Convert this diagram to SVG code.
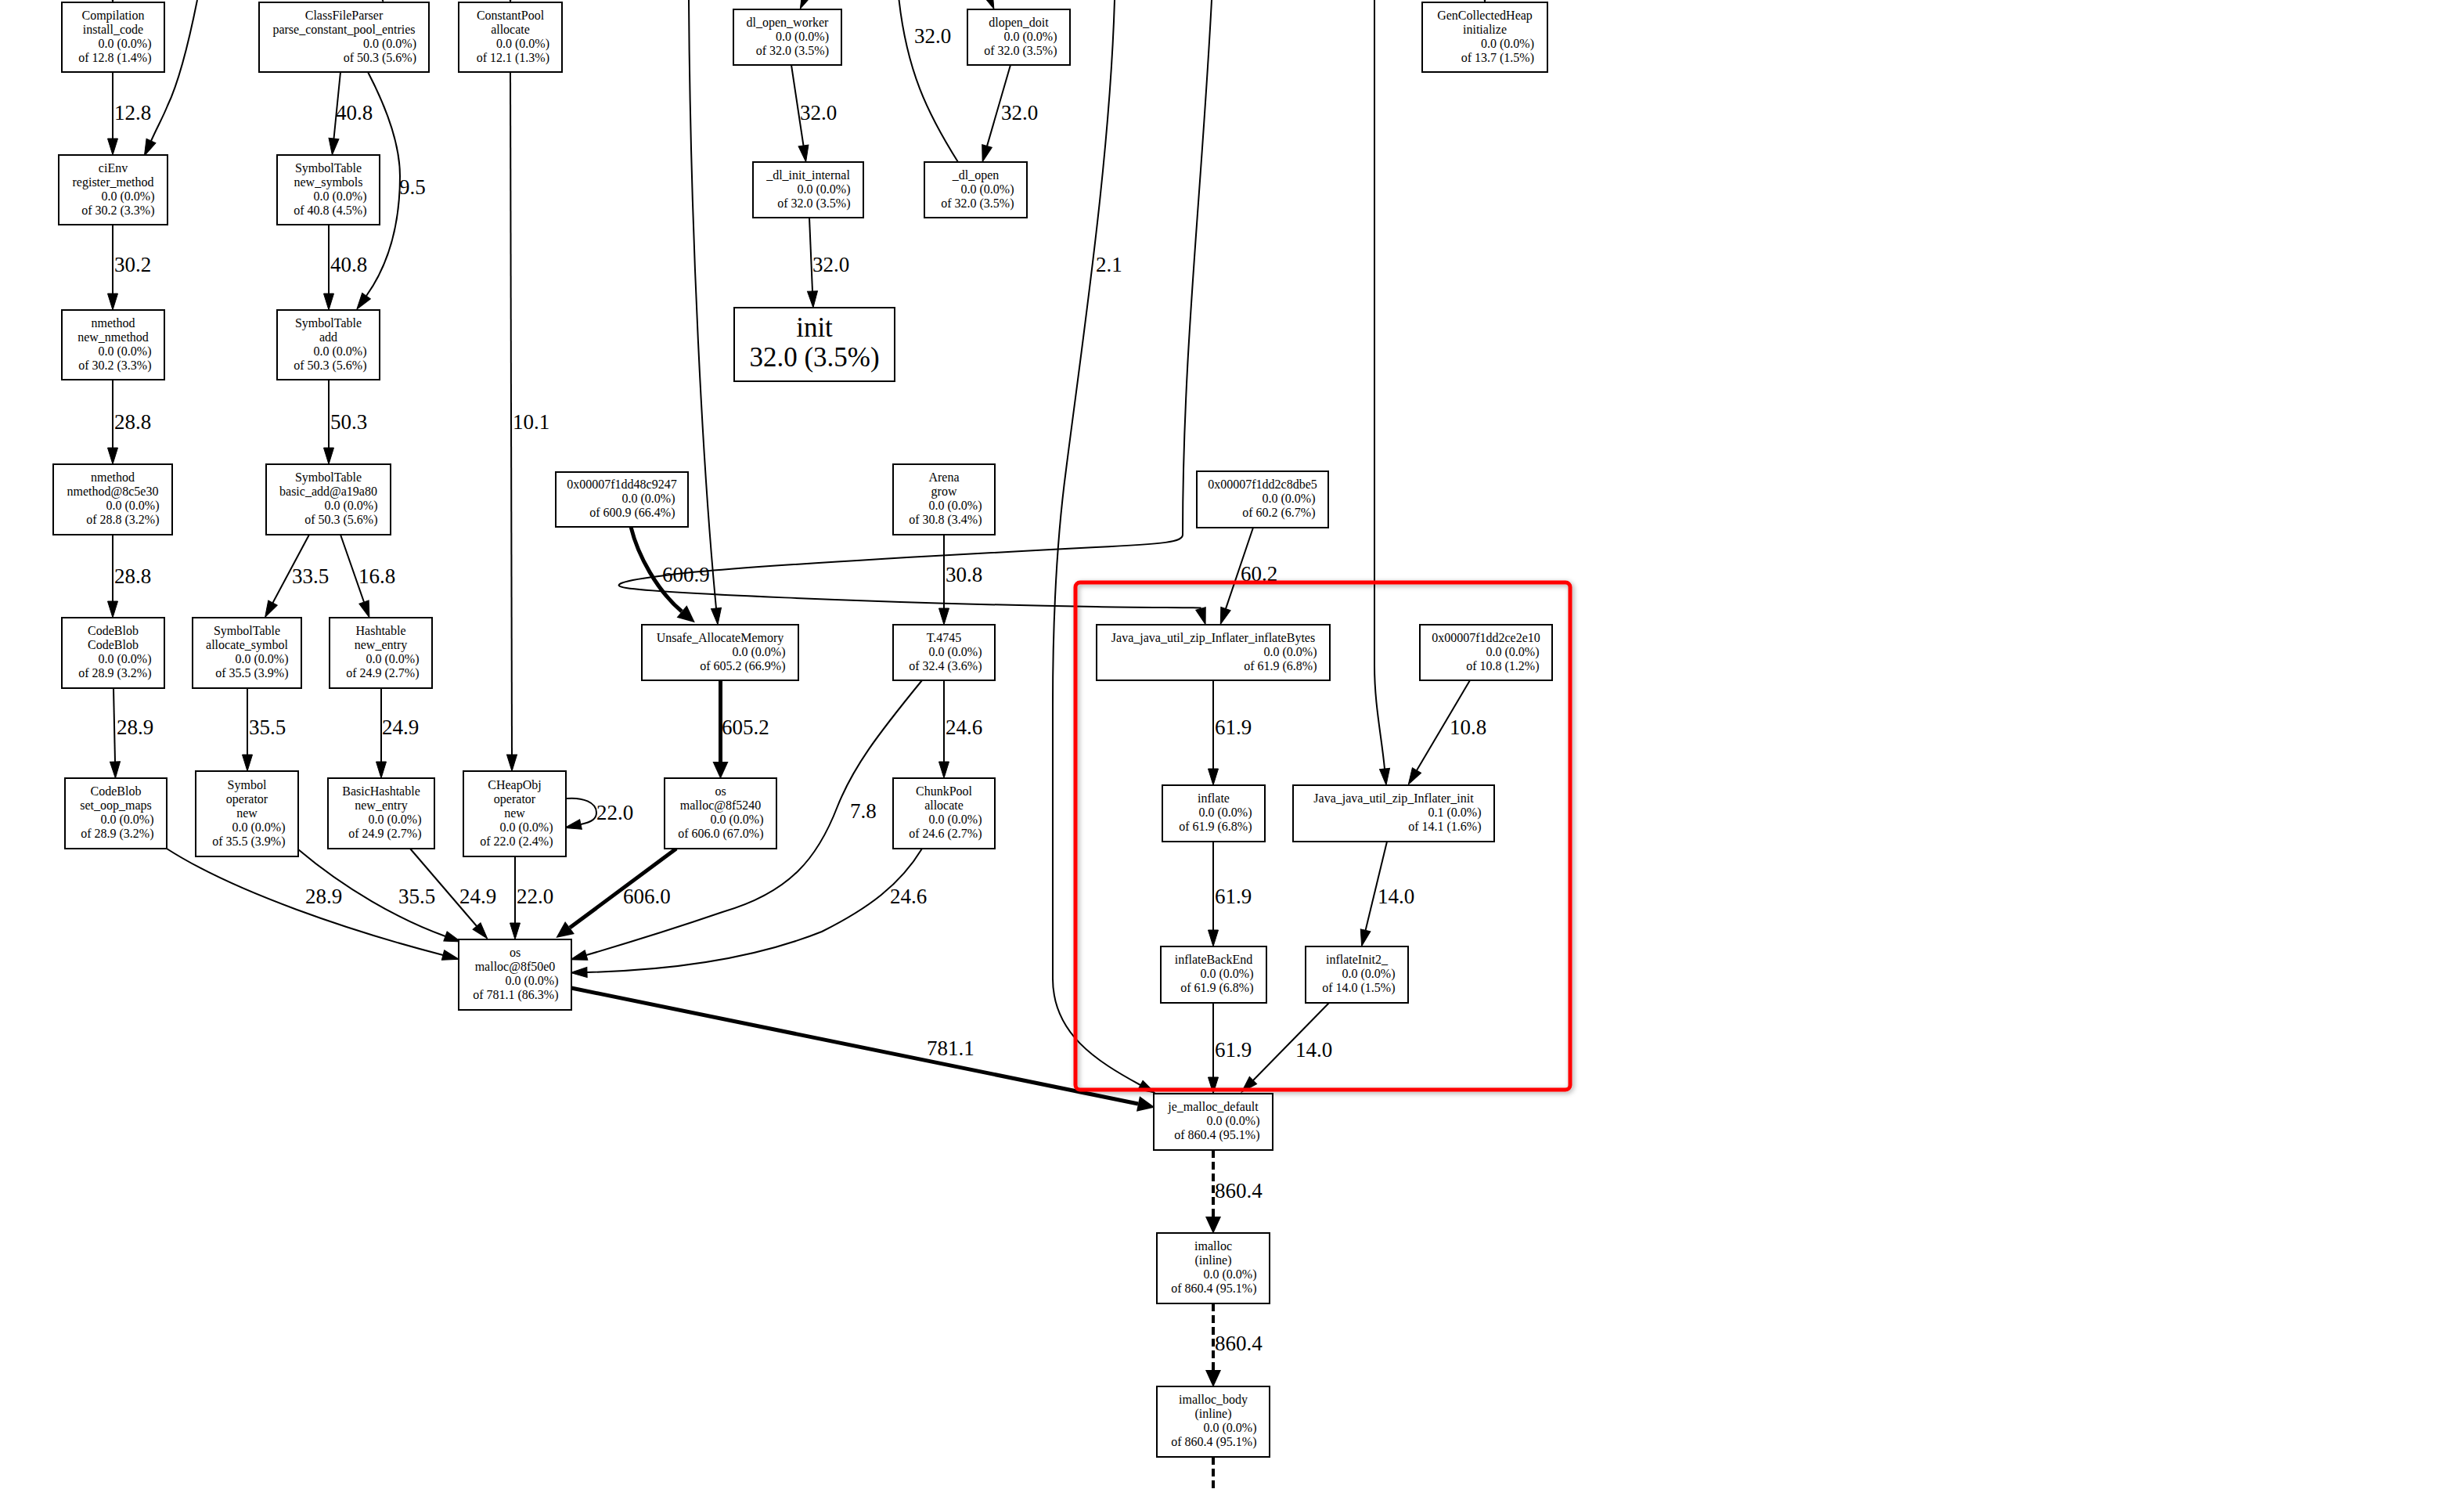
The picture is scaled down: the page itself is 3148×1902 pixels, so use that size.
<svg xmlns="http://www.w3.org/2000/svg" width="3148" height="1902" viewBox="0 0 3148 1902">
<style>
.box{fill:#fff;stroke:#000;stroke-width:2}
.nt{font-family:"Liberation Serif","Times New Roman",serif;font-size:16px;fill:#000}
.big{font-family:"Liberation Serif","Times New Roman",serif;font-size:35px;fill:#000;text-anchor:middle}
.c{text-anchor:middle}
.r{text-anchor:end}
.el{font-family:"Liberation Serif","Times New Roman",serif;font-size:27px;fill:#000}
.e{fill:none;stroke:#000;stroke-width:2;marker-end:url(#a)}
.n{fill:none;stroke:#000;stroke-width:2}
.k{fill:none;stroke:#000;stroke-width:5;marker-end:url(#ak)}
.d{fill:none;stroke:#000;stroke-width:4;stroke-dasharray:10 5;marker-end:url(#ak)}
.hl{fill:none;stroke:#f00;stroke-width:5}
</style>
<defs>
<marker id="a" markerUnits="userSpaceOnUse" orient="auto" refX="0" refY="6.5" markerWidth="22" markerHeight="13" overflow="visible"><path d="M0,0L21,6.5L0,13z" fill="#000" stroke="#000" stroke-width="1"/></marker>
<marker id="ak" markerUnits="userSpaceOnUse" orient="auto" refX="0" refY="10" markerWidth="23" markerHeight="20" overflow="visible"><path d="M0,0L22,10L0,20z" fill="#000"/></marker>
<filter id="sh" x="-5%" y="-5%" width="110%" height="110%"><feDropShadow dx="2" dy="2" stdDeviation="3" flood-color="#000" flood-opacity="0.35"/></filter>
</defs>
<rect width="3148" height="1902" fill="#fff"/>

<g id="connectors">
<path class="e" d="M144,-40L144,-18"/>
<path class="e" d="M478,-40L484,-18"/>
<path class="e" d="M652,-40L652,-18"/>
<path class="e" d="M1897,-40L1897,-18"/>
<path class="e" d="M1050,-50L1031,-8"/>
<path class="e" d="M1245,-50L1262,-8"/>
<path class="e" d="M144,92L144,177"/>
<path class="e" d="M252,0C238,70 226,110 214,135C208,150 202,160 193,180"/>
<path class="e" d="M435,92L426.5,177"/>
<path class="e" d="M470,92C495,140 511,185 511,225C511,290 495,340 468,378"/>
<path class="e" d="M420,287L420,375"/>
<path class="e" d="M144,287L144,375"/>
<path class="e" d="M144,485L144,572"/>
<path class="e" d="M420,485L420,572"/>
<path class="e" d="M144,683L144,768"/>
<path class="e" d="M395,683L348.5,770"/>
<path class="e" d="M435,683L465,769"/>
<path class="e" d="M145,879L147,973"/>
<path class="e" d="M316,879L316,964"/>
<path class="e" d="M487,879L487,973"/>
<path class="e" d="M652,92L654,964"/>
<path class="e" d="M1011,83L1026.5,186"/>
<path class="e" d="M1291,83L1261,186.6"/>
<path class="n" d="M1224,207C1185,145 1158,90 1148,-5"/>
<path class="e" d="M1034,278L1038,372"/>
<path class="e" d="M880,0C882,300 898,600 915,777"/>
<path class="e" d="M1424,0C1418,200 1385,420 1362,600C1350,690 1345,800 1345,900L1345,1250C1345,1320 1400,1355 1457,1386"/>
<path class="e" d="M1756,0L1756,850C1756,900 1765,940 1769,982"/>
<path class="e" d="M1548,0C1535,250 1511,450 1511,683C1511,692 1490,695 1400,699C1150,712 920,725 850,735C790,742 780,748 800,751C840,757 1100,770 1400,775C1450,776 1520,776 1533.7,776.5L1534,777.5"/>
<path class="k" d="M806,673C815,710 840,755 871,781"/>
<path class="e" d="M1206,683L1206,777"/>
<path class="e" d="M1601,674L1566,777.6"/>
<path class="k" d="M920.5,869L920.5,973"/>
<path class="e" d="M1206,869L1206,973"/>
<path class="e" d="M1178,869C1120,940 1090,980 1070,1030C1045,1095 1010,1140 923,1165C850,1190 790,1208 749,1220"/>
<path class="e" d="M1178,1084C1150,1130 1110,1160 1050,1190C950,1230 830,1240 750,1242"/>
<path class="k" d="M864,1084L728,1185"/>
<path class="k" d="M730,1262L1454,1410"/>
<path class="e" d="M213,1084C300,1140 450,1190 566,1220"/>
<path class="e" d="M381,1085C440,1135 510,1175 569,1196"/>
<path class="e" d="M524,1084L609,1183"/>
<path class="e" d="M658,1094L658,1179"/>
<path class="e" d="M723,1020C745,1018 762,1025 762,1038C762,1046 756,1050 742,1053"/>
<path class="e" d="M1550,869L1550,982"/>
<path class="e" d="M1878,869L1810,984"/>
<path class="e" d="M1550,1075L1550,1188"/>
<path class="e" d="M1772,1075L1744.6,1188.3"/>
<path class="e" d="M1550,1281L1550,1376"/>
<path class="e" d="M1698,1281L1601,1380"/>
<path class="d" d="M1550,1469L1550,1554"/>
<path class="d" d="M1550,1665L1550,1750"/>
<path class="d" d="M1550,1861L1550,1940"/>
<text class="el" x="146" y="153">12.8</text>
<text class="el" x="429" y="153">40.8</text>
<text class="el" x="510" y="248">9.5</text>
<text class="el" x="422" y="347">40.8</text>
<text class="el" x="146" y="347">30.2</text>
<text class="el" x="146" y="548">28.8</text>
<text class="el" x="422" y="548">50.3</text>
<text class="el" x="655" y="548">10.1</text>
<text class="el" x="1022" y="153">32.0</text>
<text class="el" x="1279" y="153">32.0</text>
<text class="el" x="1168" y="55">32.0</text>
<text class="el" x="1038" y="347">32.0</text>
<text class="el" x="1400" y="347">2.1</text>
<text class="el" x="846" y="743">600.9</text>
<text class="el" x="1208" y="743">30.8</text>
<text class="el" x="1585" y="742">60.2</text>
<text class="el" x="146" y="745">28.8</text>
<text class="el" x="373" y="745">33.5</text>
<text class="el" x="458" y="745">16.8</text>
<text class="el" x="149" y="938">28.9</text>
<text class="el" x="318" y="938">35.5</text>
<text class="el" x="488" y="938">24.9</text>
<text class="el" x="922" y="938">605.2</text>
<text class="el" x="1208" y="938">24.6</text>
<text class="el" x="1552" y="938">61.9</text>
<text class="el" x="1852" y="938">10.8</text>
<text class="el" x="762" y="1047">22.0</text>
<text class="el" x="1086" y="1045">7.8</text>
<text class="el" x="390" y="1154">28.9</text>
<text class="el" x="509" y="1154">35.5</text>
<text class="el" x="587" y="1154">24.9</text>
<text class="el" x="660" y="1154">22.0</text>
<text class="el" x="796" y="1154">606.0</text>
<text class="el" x="1137" y="1154">24.6</text>
<text class="el" x="1552" y="1154">61.9</text>
<text class="el" x="1760" y="1154">14.0</text>
<text class="el" x="1184" y="1348">781.1</text>
<text class="el" x="1552" y="1350">61.9</text>
<text class="el" x="1655" y="1350">14.0</text>
<text class="el" x="1552" y="1530">860.4</text>
<text class="el" x="1552" y="1725">860.4</text>
<text class="el" x="1552" y="1921">860.4</text>
</g>

<g id="n_compilation"><rect class="box" x="79" y="3" width="131" height="89"/><text class="nt c" x="144.5" y="24.5">Compilation</text><text class="nt c" x="144.5" y="42.5">install_code</text><text class="nt r" x="193.5" y="60.5">0.0 (0.0%)</text><text class="nt r" x="193.5" y="78.5">of 12.8 (1.4%)</text></g>
<g id="n_classfileparser"><rect class="box" x="331" y="3" width="217" height="89"/><text class="nt c" x="439.5" y="24.5">ClassFileParser</text><text class="nt c" x="439.5" y="42.5">parse_constant_pool_entries</text><text class="nt r" x="532" y="60.5">0.0 (0.0%)</text><text class="nt r" x="532" y="78.5">of 50.3 (5.6%)</text></g>
<g id="n_constantpool"><rect class="box" x="586" y="3" width="132" height="89"/><text class="nt c" x="652" y="24.5">ConstantPool</text><text class="nt c" x="652" y="42.5">allocate</text><text class="nt r" x="702" y="60.5">0.0 (0.0%)</text><text class="nt r" x="702" y="78.5">of 12.1 (1.3%)</text></g>
<g id="n_cienv"><rect class="box" x="75" y="198" width="139" height="89"/><text class="nt c" x="144.5" y="219.5">ciEnv</text><text class="nt c" x="144.5" y="237.5">register_method</text><text class="nt r" x="197.5" y="255.5">0.0 (0.0%)</text><text class="nt r" x="197.5" y="273.5">of 30.2 (3.3%)</text></g>
<g id="n_newsymbols"><rect class="box" x="354" y="198" width="131" height="89"/><text class="nt c" x="419.5" y="219.5">SymbolTable</text><text class="nt c" x="419.5" y="237.5">new_symbols</text><text class="nt r" x="468.5" y="255.5">0.0 (0.0%)</text><text class="nt r" x="468.5" y="273.5">of 40.8 (4.5%)</text></g>
<g id="n_newnmethod"><rect class="box" x="79" y="396" width="131" height="89"/><text class="nt c" x="144.5" y="417.5">nmethod</text><text class="nt c" x="144.5" y="435.5">new_nmethod</text><text class="nt r" x="193.5" y="453.5">0.0 (0.0%)</text><text class="nt r" x="193.5" y="471.5">of 30.2 (3.3%)</text></g>
<g id="n_symboltableadd"><rect class="box" x="354" y="396" width="131" height="89"/><text class="nt c" x="419.5" y="417.5">SymbolTable</text><text class="nt c" x="419.5" y="435.5">add</text><text class="nt r" x="468.5" y="453.5">0.0 (0.0%)</text><text class="nt r" x="468.5" y="471.5">of 50.3 (5.6%)</text></g>
<g id="n_dlopenworker"><rect class="box" x="937" y="12" width="138" height="71"/><text class="nt c" x="1006" y="33.5">dl_open_worker</text><text class="nt r" x="1059" y="51.5">0.0 (0.0%)</text><text class="nt r" x="1059" y="69.5">of 32.0 (3.5%)</text></g>
<g id="n_dlopendoit"><rect class="box" x="1236" y="12" width="131" height="71"/><text class="nt c" x="1301.5" y="33.5">dlopen_doit</text><text class="nt r" x="1350.5" y="51.5">0.0 (0.0%)</text><text class="nt r" x="1350.5" y="69.5">of 32.0 (3.5%)</text></g>
<g id="n_dlinitinternal"><rect class="box" x="962" y="207" width="141" height="71"/><text class="nt c" x="1032.5" y="228.5">_dl_init_internal</text><text class="nt r" x="1086.5" y="246.5">0.0 (0.0%)</text><text class="nt r" x="1086.5" y="264.5">of 32.0 (3.5%)</text></g>
<g id="n_dlopen"><rect class="box" x="1181" y="207" width="131" height="71"/><text class="nt c" x="1246.5" y="228.5">_dl_open</text><text class="nt r" x="1295.5" y="246.5">0.0 (0.0%)</text><text class="nt r" x="1295.5" y="264.5">of 32.0 (3.5%)</text></g>
<g id="n_init"><rect class="box" x="938" y="393" width="205" height="94"/><text class="big" x="1040.5" y="430">init</text><text class="big" x="1040.5" y="468">32.0 (3.5%)</text></g>
<g id="n_gencollectedheap"><rect class="box" x="1817" y="3" width="160" height="89"/><text class="nt c" x="1897" y="24.5">GenCollectedHeap</text><text class="nt c" x="1897" y="42.5">initialize</text><text class="nt r" x="1960" y="60.5">0.0 (0.0%)</text><text class="nt r" x="1960" y="78.5">of 13.7 (1.5%)</text></g>
<g id="n_nmethod8c5e30"><rect class="box" x="68" y="593" width="152" height="90"/><text class="nt c" x="144" y="615">nmethod</text><text class="nt c" x="144" y="633">nmethod@8c5e30</text><text class="nt r" x="203.5" y="651">0.0 (0.0%)</text><text class="nt r" x="203.5" y="669">of 28.8 (3.2%)</text></g>
<g id="n_basicadd"><rect class="box" x="340" y="593" width="159" height="90"/><text class="nt c" x="419.5" y="615">SymbolTable</text><text class="nt c" x="419.5" y="633">basic_add@a19a80</text><text class="nt r" x="482.5" y="651">0.0 (0.0%)</text><text class="nt r" x="482.5" y="669">of 50.3 (5.6%)</text></g>
<g id="n_0x9247"><rect class="box" x="710" y="603" width="169" height="70"/><text class="nt c" x="794.5" y="624">0x00007f1dd48c9247</text><text class="nt r" x="862.5" y="642">0.0 (0.0%)</text><text class="nt r" x="862.5" y="660">of 600.9 (66.4%)</text></g>
<g id="n_arenagrow"><rect class="box" x="1141" y="593" width="130" height="90"/><text class="nt c" x="1206" y="615">Arena</text><text class="nt c" x="1206" y="633">grow</text><text class="nt r" x="1254.5" y="651">0.0 (0.0%)</text><text class="nt r" x="1254.5" y="669">of 30.8 (3.4%)</text></g>
<g id="n_0xdbe5"><rect class="box" x="1529" y="602" width="168" height="72"/><text class="nt c" x="1613" y="624">0x00007f1dd2c8dbe5</text><text class="nt r" x="1680.5" y="642">0.0 (0.0%)</text><text class="nt r" x="1680.5" y="660">of 60.2 (6.7%)</text></g>
<g id="n_codeblob"><rect class="box" x="79" y="789" width="131" height="90"/><text class="nt c" x="144.5" y="811">CodeBlob</text><text class="nt c" x="144.5" y="829">CodeBlob</text><text class="nt r" x="193.5" y="847">0.0 (0.0%)</text><text class="nt r" x="193.5" y="865">of 28.9 (3.2%)</text></g>
<g id="n_allocatesymbol"><rect class="box" x="246" y="789" width="139" height="90"/><text class="nt c" x="315.5" y="811">SymbolTable</text><text class="nt c" x="315.5" y="829">allocate_symbol</text><text class="nt r" x="368.5" y="847">0.0 (0.0%)</text><text class="nt r" x="368.5" y="865">of 35.5 (3.9%)</text></g>
<g id="n_hashtable"><rect class="box" x="421" y="789" width="131" height="90"/><text class="nt c" x="486.5" y="811">Hashtable</text><text class="nt c" x="486.5" y="829">new_entry</text><text class="nt r" x="535.5" y="847">0.0 (0.0%)</text><text class="nt r" x="535.5" y="865">of 24.9 (2.7%)</text></g>
<g id="n_unsafe"><rect class="box" x="820" y="798" width="200" height="71"/><text class="nt c" x="920" y="819.5">Unsafe_AllocateMemory</text><text class="nt r" x="1003.5" y="837.5">0.0 (0.0%)</text><text class="nt r" x="1003.5" y="855.5">of 605.2 (66.9%)</text></g>
<g id="n_t4745"><rect class="box" x="1141" y="798" width="130" height="71"/><text class="nt c" x="1206" y="819.5">T.4745</text><text class="nt r" x="1254.5" y="837.5">0.0 (0.0%)</text><text class="nt r" x="1254.5" y="855.5">of 32.4 (3.6%)</text></g>
<g id="n_inflatebytes"><rect class="box" x="1401" y="798" width="298" height="71"/><text class="nt c" x="1550" y="819.5">Java_java_util_zip_Inflater_inflateBytes</text><text class="nt r" x="1682.5" y="837.5">0.0 (0.0%)</text><text class="nt r" x="1682.5" y="855.5">of 61.9 (6.8%)</text></g>
<g id="n_0x2e10"><rect class="box" x="1814" y="798" width="169" height="71"/><text class="nt c" x="1898.5" y="819.5">0x00007f1dd2ce2e10</text><text class="nt r" x="1966.5" y="837.5">0.0 (0.0%)</text><text class="nt r" x="1966.5" y="855.5">of 10.8 (1.2%)</text></g>
<g id="n_setoopmaps"><rect class="box" x="83" y="994" width="130" height="90"/><text class="nt c" x="148" y="1016">CodeBlob</text><text class="nt c" x="148" y="1034">set_oop_maps</text><text class="nt r" x="196.5" y="1052">0.0 (0.0%)</text><text class="nt r" x="196.5" y="1070">of 28.9 (3.2%)</text></g>
<g id="n_symbolnew"><rect class="box" x="250" y="985" width="131" height="109"/><text class="nt c" x="315.5" y="1007.5">Symbol</text><text class="nt c" x="315.5" y="1025.5">operator</text><text class="nt c" x="315.5" y="1043.5">new</text><text class="nt r" x="364.5" y="1061.5">0.0 (0.0%)</text><text class="nt r" x="364.5" y="1079.5">of 35.5 (3.9%)</text></g>
<g id="n_basichashtable"><rect class="box" x="419" y="994" width="136" height="90"/><text class="nt c" x="487" y="1016">BasicHashtable</text><text class="nt c" x="487" y="1034">new_entry</text><text class="nt r" x="538.5" y="1052">0.0 (0.0%)</text><text class="nt r" x="538.5" y="1070">of 24.9 (2.7%)</text></g>
<g id="n_cheapobj"><rect class="box" x="592" y="985" width="131" height="109"/><text class="nt c" x="657.5" y="1007.5">CHeapObj</text><text class="nt c" x="657.5" y="1025.5">operator</text><text class="nt c" x="657.5" y="1043.5">new</text><text class="nt r" x="706.5" y="1061.5">0.0 (0.0%)</text><text class="nt r" x="706.5" y="1079.5">of 22.0 (2.4%)</text></g>
<g id="n_malloc5240"><rect class="box" x="849" y="994" width="143" height="90"/><text class="nt c" x="920.5" y="1016">os</text><text class="nt c" x="920.5" y="1034">malloc@8f5240</text><text class="nt r" x="975.5" y="1052">0.0 (0.0%)</text><text class="nt r" x="975.5" y="1070">of 606.0 (67.0%)</text></g>
<g id="n_chunkpool"><rect class="box" x="1141" y="994" width="130" height="90"/><text class="nt c" x="1206" y="1016">ChunkPool</text><text class="nt c" x="1206" y="1034">allocate</text><text class="nt r" x="1254.5" y="1052">0.0 (0.0%)</text><text class="nt r" x="1254.5" y="1070">of 24.6 (2.7%)</text></g>
<g id="n_inflate"><rect class="box" x="1485" y="1003" width="131" height="72"/><text class="nt c" x="1550.5" y="1025">inflate</text><text class="nt r" x="1599.5" y="1043">0.0 (0.0%)</text><text class="nt r" x="1599.5" y="1061">of 61.9 (6.8%)</text></g>
<g id="n_inflaterinit"><rect class="box" x="1652" y="1003" width="257" height="72"/><text class="nt c" x="1780.5" y="1025">Java_java_util_zip_Inflater_init</text><text class="nt r" x="1892.5" y="1043">0.1 (0.0%)</text><text class="nt r" x="1892.5" y="1061">of 14.1 (1.6%)</text></g>
<g id="n_malloc50e0"><rect class="box" x="586" y="1200" width="144" height="90"/><text class="nt c" x="658" y="1222">os</text><text class="nt c" x="658" y="1240">malloc@8f50e0</text><text class="nt r" x="713.5" y="1258">0.0 (0.0%)</text><text class="nt r" x="713.5" y="1276">of 781.1 (86.3%)</text></g>
<g id="n_inflatebackend"><rect class="box" x="1483" y="1209" width="135" height="72"/><text class="nt c" x="1550.5" y="1231">inflateBackEnd</text><text class="nt r" x="1601.5" y="1249">0.0 (0.0%)</text><text class="nt r" x="1601.5" y="1267">of 61.9 (6.8%)</text></g>
<g id="n_inflateinit2"><rect class="box" x="1668" y="1209" width="131" height="72"/><text class="nt c" x="1733.5" y="1231">inflateInit2_</text><text class="nt r" x="1782.5" y="1249">0.0 (0.0%)</text><text class="nt r" x="1782.5" y="1267">of 14.0 (1.5%)</text></g>
<g id="n_jemallocdefault"><rect class="box" x="1474" y="1397" width="152" height="72"/><text class="nt c" x="1550" y="1419">je_malloc_default</text><text class="nt r" x="1609.5" y="1437">0.0 (0.0%)</text><text class="nt r" x="1609.5" y="1455">of 860.4 (95.1%)</text></g>
<g id="n_imalloc"><rect class="box" x="1478" y="1575" width="144" height="90"/><text class="nt c" x="1550" y="1597">imalloc</text><text class="nt c" x="1550" y="1615">(inline)</text><text class="nt r" x="1605.5" y="1633">0.0 (0.0%)</text><text class="nt r" x="1605.5" y="1651">of 860.4 (95.1%)</text></g>
<g id="n_imallocbody"><rect class="box" x="1478" y="1771" width="144" height="90"/><text class="nt c" x="1550" y="1793">imalloc_body</text><text class="nt c" x="1550" y="1811">(inline)</text><text class="nt r" x="1605.5" y="1829">0.0 (0.0%)</text><text class="nt r" x="1605.5" y="1847">of 860.4 (95.1%)</text></g>

<g id="highlight"><rect class="hl" x="1374" y="744" width="632" height="648" rx="6" filter="url(#sh)"/></g>
</svg>
